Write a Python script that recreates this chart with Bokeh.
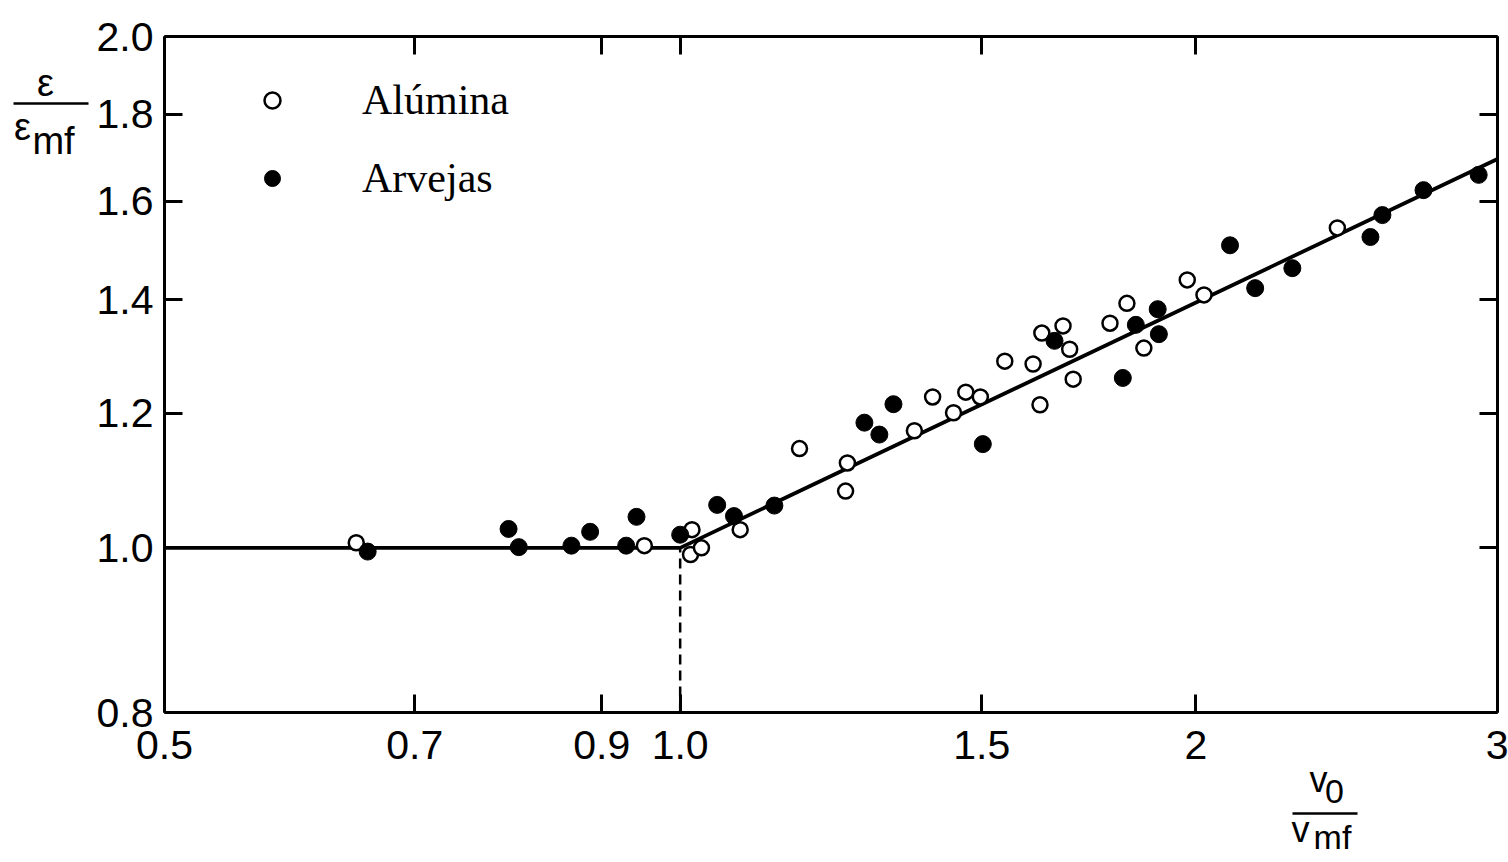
import math
from bokeh.plotting import figure
from bokeh.models import (FixedTicker, CustomJSTickFormatter, LogAxis, Label, Arrow,
                          Legend, LegendItem, Range1d)
from bokeh.embed import file_html
from bokeh.resources import INLINE

# ---- data ----
alumina_x = [0.647, 0.953, 1.016, 1.014, 1.029, 1.084, 1.174, 1.252, 1.249, 1.370,
             1.404, 1.444, 1.468, 1.497, 1.547, 1.607, 1.622, 1.626, 1.673, 1.688,
             1.696, 1.782, 1.823, 1.865, 1.977, 2.022, 2.419]
alumina_y = [1.007, 1.003, 1.025, 0.991, 1.000, 1.025, 1.144, 1.122, 1.080, 1.172,
             1.227, 1.201, 1.235, 1.227, 1.288, 1.283, 1.214, 1.338, 1.351, 1.309,
             1.257, 1.356, 1.393, 1.311, 1.438, 1.409, 1.543]

arvejas_x = [0.657, 0.794, 0.805, 0.864, 0.886, 0.930, 0.943, 1.000, 1.051, 1.075,
             1.135, 1.281, 1.307, 1.332, 1.502, 1.654, 1.813, 1.845, 1.900, 1.903,
             2.094, 2.166, 2.277, 2.529, 2.570, 2.716, 2.925]
arvejas_y = [0.995, 1.026, 1.001, 1.003, 1.022, 1.003, 1.043, 1.018, 1.060, 1.044,
             1.059, 1.185, 1.166, 1.215, 1.151, 1.324, 1.259, 1.353, 1.382, 1.336,
             1.507, 1.422, 1.461, 1.524, 1.570, 1.624, 1.658]

fit_x = [0.5, 1.0, 3.0]
fit_y = [1.0, 1.0, 1.694]
threshold_x = [1.0, 1.0]
threshold_y = [0.8, 1.0]

x_ticks = [0.5, 0.7, 0.9, 1.0, 1.5, 2.0, 3.0]
y_ticks = [0.8, 1.0, 1.2, 1.4, 1.6, 1.8, 2.0]

FONT = "Liberation Sans"
SERIF = "Liberation Serif"

# ---- layout: frame covers the whole canvas, axes are pinned at the box edges ----
W, H = 1508, 862
BOX_L, BOX_R, BOX_T, BOX_B = 164, 1497, 36, 712
x0, x1 = x_ticks[0], x_ticks[-1]
y0, y1 = y_ticks[0], y_ticks[-1]
lx = math.log10(x1 / x0) / (BOX_R - BOX_L)
ly = math.log10(y1 / y0) / (BOX_B - BOX_T)
xr = Range1d(x0 / 10 ** (BOX_L * lx), x1 * 10 ** ((W - BOX_R) * lx))
yr = Range1d(y0 / 10 ** ((H - BOX_B) * ly), y1 * 10 ** (BOX_T * ly))

p = figure(width=W, height=H, x_axis_type="log", y_axis_type="log",
           x_axis_location=None, y_axis_location=None,
           x_range=xr, y_range=yr,
           output_backend="svg", toolbar_location=None,
           min_border=0, min_border_left=0, min_border_right=0,
           min_border_top=0, min_border_bottom=0,
           background_fill_color="white", border_fill_color="white")
p.grid.visible = False
p.outline_line_color = None

xfmt = CustomJSTickFormatter(code="return (tick >= 2) ? tick.toFixed(0) : tick.toFixed(1);")
yfmt = CustomJSTickFormatter(code="return tick.toFixed(1);")


def make_axis(ticks, fmt, loc, bounds, labels):
    ax = LogAxis(ticker=FixedTicker(ticks=ticks), formatter=fmt,
                 fixed_location=loc, bounds=bounds)
    ax.axis_line_width = 3
    ax.axis_line_color = "black"
    ax.major_tick_in = 18
    ax.major_tick_out = 0
    ax.major_tick_line_width = 3
    ax.major_tick_line_color = "black"
    ax.minor_tick_in = 0
    ax.minor_tick_out = 0
    ax.minor_tick_line_color = None
    if labels:
        ax.major_label_text_font = FONT
        ax.major_label_text_font_size = "41px"
        ax.major_label_text_color = "black"
    else:
        ax.major_label_text_color = None
    return ax


bottom = make_axis(x_ticks, xfmt, y0, (x0, x1), True)
bottom.major_label_standoff = 18
left = make_axis(y_ticks, yfmt, x0, (y0, y1), True)
left.major_label_standoff = 11
top = make_axis(x_ticks, xfmt, y1, (x0, x1), False)
right = make_axis(y_ticks, yfmt, x1, (y0, y1), False)
p.add_layout(bottom, "below")
p.add_layout(left, "left")
p.add_layout(top, "above")
p.add_layout(right, "right")

# fitted line and threshold
p.line(fit_x, fit_y, line_color="black", line_width=3.8)
p.line(threshold_x, threshold_y, line_color="black", line_width=2.5, line_dash="10 6")

r_al = p.scatter(alumina_x, alumina_y, marker="circle", size=15,
                 fill_color="white", line_color="black", line_width=2.5)
r_ar = p.scatter(arvejas_x, arvejas_y, marker="circle", size=17,
                 fill_color="black", line_color="black", line_width=1)

legend = Legend(items=[LegendItem(label="Alúmina", renderers=[r_al]),
                       LegendItem(label="Arvejas", renderers=[r_ar])],
                location=(252, H - 202), orientation="vertical",
                label_text_font=SERIF, label_text_font_size="42px",
                label_text_color="black",
                label_standoff=70, glyph_width=40, glyph_height=40,
                spacing=30, padding=0, margin=0,
                border_line_color=None, background_fill_alpha=0)
p.add_layout(legend, "center")


# axis titles (fraction style), in canvas pixels measured from the top-left
def lab(text, x, y, size="36px"):
    p.add_layout(Label(x=x, y=H - y, x_units="screen", y_units="screen", text=text,
                       text_font=FONT, text_font_size=size, text_color="black",
                       text_align="center", text_baseline="middle"))


def bar(xa, xb, y):
    p.add_layout(Arrow(x_start=xa, y_start=H - y, x_end=xb, y_end=H - y,
                       start_units="screen", end_units="screen",
                       start=None, end=None, line_width=2.5, line_color="black"))


lab("ε", 45, 82, size="38px")
bar(13, 88, 103)
lab("ε", 22, 126, size="38px")
lab("mf", 53, 140, size="38px")

lab("v", 1318, 779, size="36px")
lab("0", 1334, 791, size="34px")
bar(1292, 1357, 813)
lab("v", 1300, 829, size="36px")
lab("mf", 1332, 836, size="34px")

open("out.html", "w").write(file_html(p, INLINE))
